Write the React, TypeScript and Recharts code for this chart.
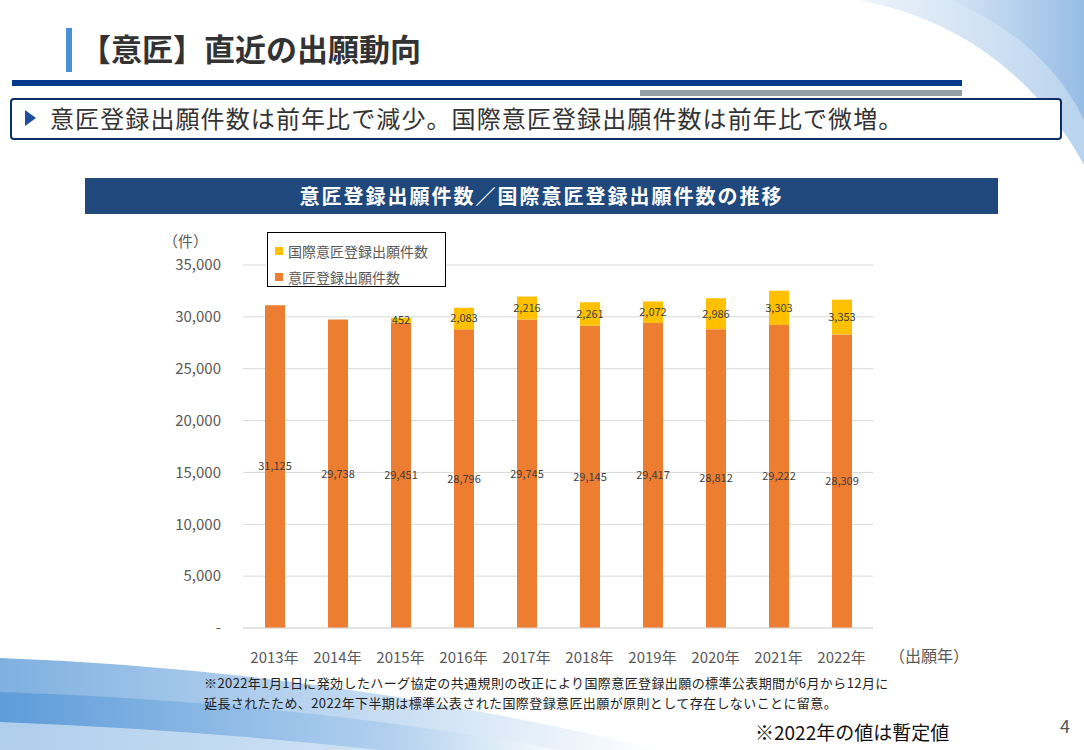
import React from 'react';
import { BarChart, Bar, XAxis, YAxis, CartesianGrid, LabelList } from 'recharts';

const years = ['2013年', '2014年', '2015年', '2016年', '2017年', '2018年', '2019年', '2020年', '2021年', '2022年'];
const domestic = [31125, 29738, 29451, 28796, 29745, 29145, 29417, 28812, 29222, 28309];
const international = [null, null, 452, 2083, 2216, 2261, 2072, 2986, 3303, 3353];
const yTicks = [0, 5000, 10000, 15000, 20000, 25000, 30000, 35000];

const ORANGE = '#ED7D31';
const YELLOW = '#FFC000';
const FONT = '"Noto Sans CJK JP", "Noto Sans", sans-serif';

const chartData = years.map((y, i) => ({
    year: y,
    domestic: domestic[i],
    international: international[i],
}));

const legendItems = [
    { name: '国際意匠登録出願件数', color: YELLOW },
    { name: '意匠登録出願件数', color: ORANGE },
];

const fmt = (v: any) => (v == null ? '' : Number(v).toLocaleString('en-US'));

const Background = () => (
    <svg width={1084} height={750} style={{ position: 'absolute', left: 0, top: 0 }}>
        <defs>
            <linearGradient id="tr1" x1="0" y1="0" x2="1" y2="0">
                <stop offset="0" stopColor="#eef4fb" />
                <stop offset="1" stopColor="#b9d3ee" />
            </linearGradient>
            <linearGradient id="tr2" x1="0" y1="0" x2="1" y2="0">
                <stop offset="0" stopColor="#d4e4f5" />
                <stop offset="1" stopColor="#8fb7e3" />
            </linearGradient>
            <linearGradient id="bl1" x1="0" y1="0" x2="1" y2="0">
                <stop offset="0" stopColor="#7fb0e0" />
                <stop offset="0.6" stopColor="#c9def3" />
                <stop offset="1" stopColor="#ffffff" />
            </linearGradient>
            <linearGradient id="bl2" x1="0" y1="0" x2="1" y2="0">
                <stop offset="0" stopColor="#4f93d6" />
                <stop offset="0.7" stopColor="#a9cbee" />
                <stop offset="1" stopColor="#ffffff" />
            </linearGradient>
        </defs>
        <path d="M 860 0 Q 1010 30 1084 165 L 1084 0 Z" fill="url(#tr1)" />
        <path d="M 950 0 Q 1045 40 1084 120 L 1084 0 Z" fill="url(#tr2)" opacity={0.8} />
        <path d="M 0 658 Q 330 670 660 750 L 0 750 Z" fill="url(#bl1)" />
        <path d="M 0 692 Q 300 702 560 750 L 0 750 Z" fill="url(#bl2)" opacity={0.7} />
        <path d="M 0 722 Q 200 730 380 750 L 0 750 Z" fill="#e6f0fa" opacity={0.6} />
    </svg>
);

export default function App() {
    return (
        <div style={{
            position: 'absolute', left: 0, top: 0, width: 1084, height: 750,
            background: '#fff', overflow: 'hidden', fontFamily: FONT,
        }}>
            <Background />

            {/* title */}
            <div style={{ position: 'absolute', left: 66, top: 28, width: 6, height: 44, background: '#4a8fd4' }} />
            <div style={{
                position: 'absolute', left: 80, top: 27, fontSize: 31, fontWeight: 700,
                color: '#333', lineHeight: '42px', whiteSpace: 'nowrap',
            }}>【意匠】直近の出願動向</div>
            <div style={{ position: 'absolute', left: 12, top: 80, width: 950, height: 6, background: '#003a8c' }} />
            <div style={{ position: 'absolute', left: 640, top: 90, width: 322, height: 6, background: '#95a0a6' }} />

            {/* summary box */}
            <div style={{
                position: 'absolute', left: 10, top: 98, width: 1048, height: 38,
                border: '2px solid #0a2f6b', borderRadius: 4, background: '#fff',
            }} />
            <svg width={14} height={16} style={{ position: 'absolute', left: 25, top: 110 }}>
                <path d="M 0 0 L 11 8 L 0 16 Z" fill="#1f4f9a" />
            </svg>
            <div style={{
                position: 'absolute', left: 50, top: 102, fontSize: 24, letterSpacing: 1.1,
                color: '#333', lineHeight: '32px', whiteSpace: 'nowrap',
            }}>意匠登録出願件数は前年比で減少。国際意匠登録出願件数は前年比で微増。</div>

            {/* chart header */}
            <div style={{
                position: 'absolute', left: 85, top: 178, width: 913, height: 36, background: '#1f497d',
                color: '#fff', fontSize: 20, fontWeight: 700, letterSpacing: 2, textAlign: 'center',
                lineHeight: '36px', whiteSpace: 'nowrap',
            }}>意匠登録出願件数／国際意匠登録出願件数の推移</div>

            <div style={{ position: 'absolute', left: 163, top: 230, fontSize: 15, color: '#595959' }}>（件）</div>
            <div style={{ position: 'absolute', left: 889, top: 643, fontSize: 16, color: '#595959', whiteSpace: 'nowrap' }}>（出願年）</div>

            <div style={{ position: 'absolute', left: 150, top: 230 }}>
                <BarChart width={740} height={440} data={chartData}
                    margin={{ top: 35, right: 17, bottom: 12, left: 0 }} barSize={20}>
                    <CartesianGrid vertical={false} stroke="#d9d9d9" />
                    <XAxis dataKey="year" axisLine={{ stroke: '#d9d9d9' }} tickLine={false} tickMargin={18}
                        tick={{ fontSize: 15, fill: '#595959', fontFamily: FONT }} interval={0} height={30} />
                    <YAxis domain={[0, 35000]} ticks={yTicks} axisLine={false} tickLine={false} width={93}
                        tickMargin={16} tickFormatter={(v: number) => (v === 0 ? '-' : fmt(v))}
                        tick={{ fontSize: 15, fill: '#595959', fontFamily: FONT }} />
                    <Bar dataKey="domestic" name="意匠登録出願件数" stackId="a" fill={ORANGE} isAnimationActive={false}>
                        <LabelList dataKey="domestic" position="center" formatter={fmt}
                            style={{ fontSize: 11, fill: '#404040', fontFamily: FONT }} />
                    </Bar>
                    <Bar dataKey="international" name="国際意匠登録出願件数" stackId="a" fill={YELLOW} isAnimationActive={false}>
                        <LabelList dataKey="international" position="center" formatter={fmt}
                            style={{ fontSize: 11, fill: '#404040', fontFamily: FONT }} />
                    </Bar>
                </BarChart>
            </div>

            {/* legend */}
            <div style={{
                position: 'absolute', left: 267, top: 232, width: 163, height: 43,
                border: '1px solid #000', background: '#fff', padding: '5px 7px',
            }}>
                {legendItems.map((it) => (
                    <div key={it.name} style={{ display: 'flex', alignItems: 'center', height: 26, fontSize: 14, color: '#595959', whiteSpace: 'nowrap' }}>
                        <span style={{ width: 8, height: 8, background: it.color, marginRight: 5, display: 'inline-block' }} />
                        {it.name}
                    </div>
                ))}
            </div>

            {/* notes */}
            <div style={{
                position: 'absolute', left: 204, top: 673, fontSize: 13, letterSpacing: 0.4,
                color: '#222', lineHeight: '20px', whiteSpace: 'nowrap',
            }}>
                <div>※2022年1月1日に発効したハーグ協定の共通規則の改正により国際意匠登録出願の標準公表期間が6月から12月に</div>
                <div>延長されたため、2022年下半期は標準公表された国際登録意匠出願が原則として存在しないことに留意。</div>
            </div>
            <div style={{ position: 'absolute', left: 755, top: 718, fontSize: 19, color: '#111', whiteSpace: 'nowrap' }}>※2022年の値は暫定値</div>
            <div style={{ position: 'absolute', left: 1060, top: 712, fontSize: 18, color: '#555' }}>4</div>
        </div>
    );
}
